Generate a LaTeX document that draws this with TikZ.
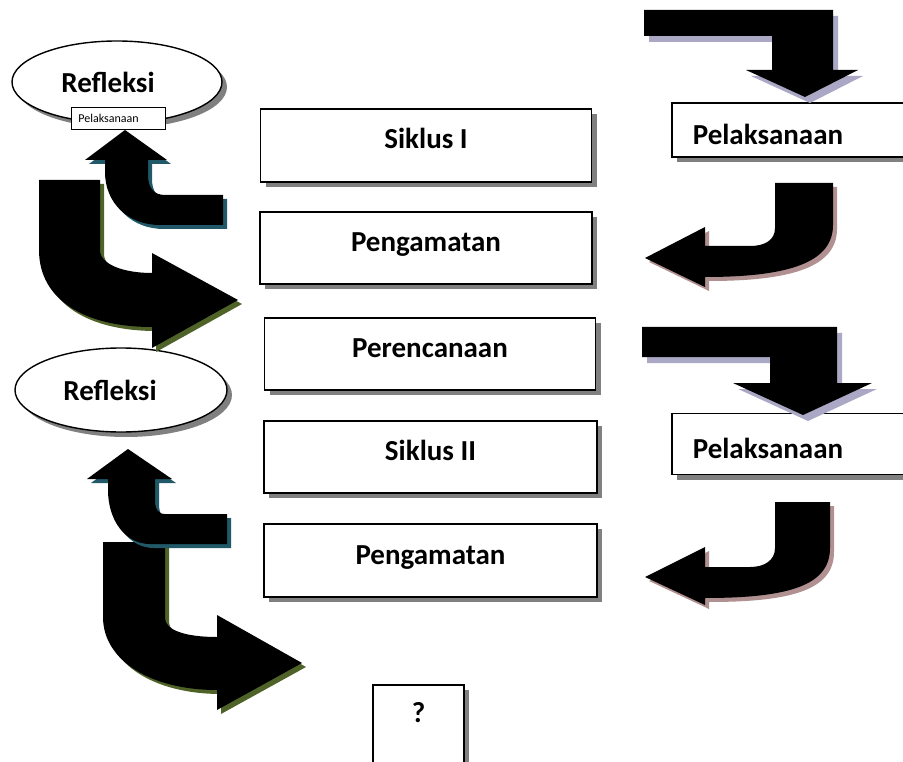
\documentclass[tikz,border=0pt]{standalone}
\usepackage{xcolor}
\usepackage{fontspec}
\setmainfont{Carlito}
\usepackage{tikz}
\usetikzlibrary{shapes.geometric}
\usetikzlibrary{shadows}
\definecolor{shadeteal}{HTML}{215968}
\definecolor{shadeolive}{HTML}{4F6228}
\definecolor{shadelilac}{HTML}{ABA8C6}
\definecolor{shaderose}{HTML}{B09090}

\begin{document}
\begin{tikzpicture}[x=1pt,y=-1pt,
	big text/.style={font=\fontsize{29}{34}\selectfont\bfseries},
	gray shade/.style={drop shadow={shadow xshift=5pt, shadow yshift=-5pt, fill=black!50, opacity=1}},
	cycle box/.style={rectangle, draw, line width=1.6pt, fill=white, big text, text height=21pt, text depth=14pt, gray shade},
	side box/.style={rectangle, draw, line width=1.6pt, fill=white, big text, anchor=west, text width=230pt, inner xsep=21pt, align=left, text height=32pt, text depth=3pt, gray shade},
	cycle oval/.style={ellipse, draw, line width=1.4pt, fill=white, gray shade},
	note box/.style={rectangle, draw, line width=0.8pt, fill=white, font=\fontsize{12}{14}\selectfont, anchor=west, text width=80pt, inner xsep=7pt, align=left},
	teal shade/.style={preaction={fill=shadeteal, transform canvas={shift={(4pt,-4pt)}}}},
	olive shade/.style={preaction={fill=shadeolive, transform canvas={shift={(4pt,-4pt)}}}},
	lilac shade/.style={preaction={fill=shadelilac, transform canvas={shift={(5pt,-6pt)}}}},
	rose shade/.style={preaction={fill=shaderose, transform canvas={shift={(4pt,-4pt)}}}}]
			\useasboundingbox (0,0) rectangle (903,762);
			% Nodes
			\node[cycle box, minimum width=331pt, minimum height=73pt] (siklus1) at (426,145.5) {Siklus I};
			\node[cycle box, minimum width=332pt, minimum height=72pt] (amat1) at (426,248) {Pengamatan};
			\node[cycle box, minimum width=331pt, minimum height=72pt] (rencana) at (430,354) {Perencanaan};
			\node[cycle box, minimum width=333pt, minimum height=72pt] (siklus2) at (430.5,457) {Siklus II};
			\node[cycle box, minimum width=333pt, minimum height=73pt] (amat2) at (430.5,560.5) {Pengamatan};
			\node[cycle box, anchor=north, minimum width=91pt, text height=19pt, text depth=80pt, inner ysep=19pt] (tanya) at (418.5,684) {?};
			
			\node[side box, minimum height=54pt] (laksana1) at (671,130) {Pelaksanaan};
			\node[side box, minimum height=61pt] (laksana2) at (671,444) {Pelaksanaan};
			
			\node[cycle oval, minimum width=210pt, minimum height=82pt, label={[big text, xshift=-9pt]center:Refleksi}] (refleksi1) at (117,82) {};
			\node[cycle oval, minimum width=212pt, minimum height=84pt, label={[big text, xshift=-11pt]center:Refleksi}] (refleksi2) at (121,390) {};
			\node[note box, minimum height=22pt] (laksana0) at (71,118) {Pelaksanaan};
			
			% left arrows
			\fill[black, olive shade] (39,180) -- (100,180) -- (100,250) .. controls (100,265) and (125,273) .. (152,273) -- (152,253) -- (238,300) -- (152,348) -- (152,327) .. controls (85,327) and (39,300) .. (39,250) -- cycle;
			\fill[black, teal shade] (85,160) -- (125,130) -- (167,160) -- (148,160) -- (148,175) .. controls (148,187) and (153,195) .. (165,195) -- (223,195) -- (223,225) -- (160,225) .. controls (128,225) and (105,203) .. (105,172) -- (105,160) -- cycle;
			
			\fill[black, olive shade] (103,542) -- (165,542) -- (165,618) .. controls (165,630) and (185,637) .. (217,637) -- (217,615) -- (302,663) -- (217,710) -- (217,690) .. controls (150,690) and (103,660) .. (103,617) -- cycle;
			\fill[black, teal shade] (87,479) -- (128,449) -- (172,479) -- (155,479) -- (155,500) .. controls (155,509) and (158,514) .. (165,514) -- (227,514) -- (227,544) -- (150,544) .. controls (125,544) and (108,520) .. (108,490) -- (108,479) -- cycle;
			
			% right arrows
			\fill[black, lilac shade] (644,10) -- (833,10) -- (833,70) -- (858,70) -- (805,97) -- (746,70) -- (772,70) -- (772,36) -- (644,36) -- cycle;
			\fill[black, rose shade] (775,183) -- (833,183) -- (833,225) .. controls (833,262) and (790,277) .. (705,277) -- (705,287) -- (645,258) -- (705,227) -- (705,246) -- (750,246) .. controls (765,246) and (775,240) .. (775,228) -- cycle;
			
			\fill[black, lilac shade] (642,327) -- (837,327) -- (837,383) -- (872,383) -- (803,415) -- (733,383) -- (770,383) -- (770,357) -- (642,357) -- cycle;
			\fill[black, rose shade] (775,502) -- (830,502) -- (830,548) .. controls (830,585) and (790,598) .. (705,598) -- (705,605) -- (645,577) -- (705,547) -- (705,567) -- (750,567) .. controls (765,567) and (775,560) .. (775,548) -- cycle;
			
		\end{tikzpicture}
\end{document}
